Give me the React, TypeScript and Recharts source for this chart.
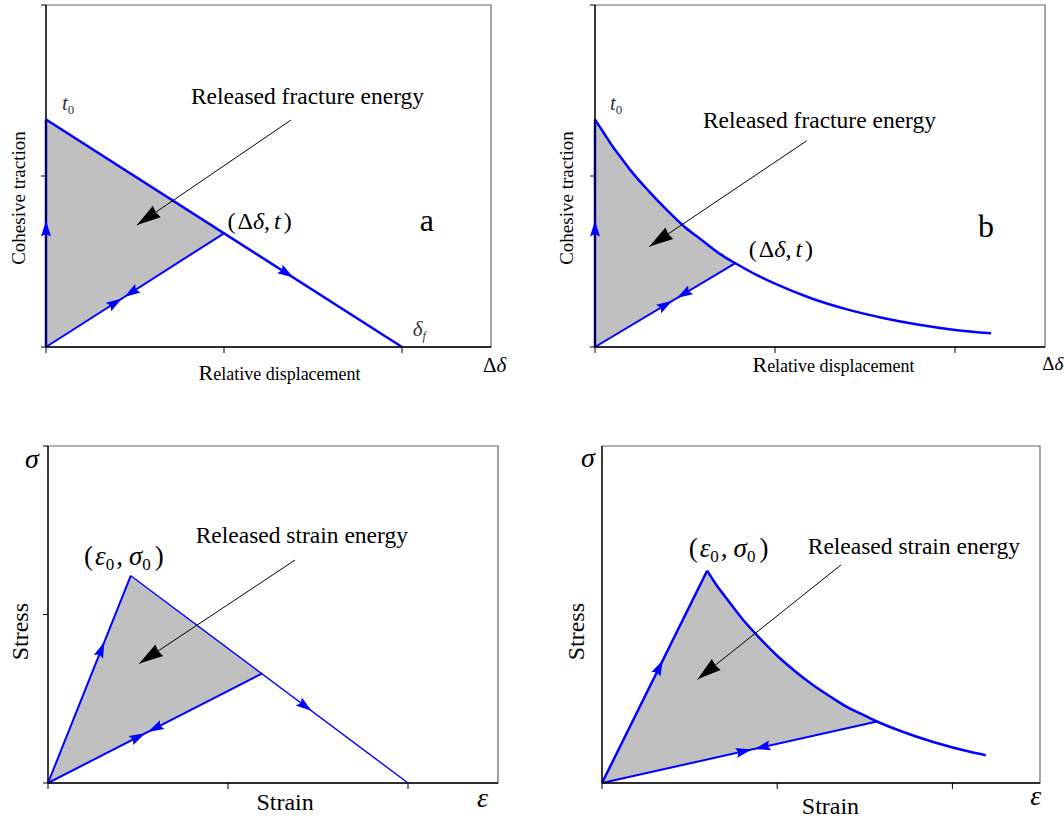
import React from 'react';
import { ComposedChart, Line, Area, Scatter, XAxis, YAxis, ReferenceArea, ReferenceDot } from 'recharts';

const BLUE = '#0000ff';
const SHADE = '#c0c0c0';
const SERIF = '"Liberation Serif", "Times New Roman", serif';

// a: bilinear cohesive law
const aLoading = [{ x: 0, y: 0 }, { x: 0, y: 1.33 }];
const aSoftening = [{ x: 0, y: 1.33 }, { x: 2, y: 0 }];
const aUnloading = [{ x: 0, y: 0 }, { x: 1, y: 0.665 }];
const aEnergy = [
  { x: 0, range: [0, 1.33] },
  { x: 1, range: [0.665, 0.665] },
];
const aArrows = [
  { x: 0, y: 0.74, dx: 0, dy: 1 },
  { x: 0.427, y: 0.284, dx: 1, dy: 0.665 },
  { x: 0.44, y: 0.293, dx: -1, dy: -0.665 },
  { x: 1.39, y: 0.406, dx: 1, dy: -0.665 },
];
const aPointer = [{ x: 1.376, y: 1.327 }, { x: 0.511, y: 0.713 }];

// b: exponential cohesive law
const bLoading = [{ x: 0, y: 0 }, { x: 0, y: 1.33 }];
const bCurve = [
  { x: 0, y: 1.33 }, { x: 0.05, y: 1.25 }, { x: 0.1, y: 1.17 }, { x: 0.15, y: 1.1 },
  { x: 0.2, y: 1.03 }, { x: 0.3, y: 0.91 }, { x: 0.4, y: 0.8 }, { x: 0.5, y: 0.7 },
  { x: 0.6, y: 0.62 }, { x: 0.7, y: 0.54 }, { x: 0.78, y: 0.49 }, { x: 0.9, y: 0.42 },
  { x: 1.0, y: 0.37 }, { x: 1.2, y: 0.285 }, { x: 1.4, y: 0.22 }, { x: 1.6, y: 0.17 },
  { x: 1.8, y: 0.13 }, { x: 2.0, y: 0.1 }, { x: 2.2, y: 0.08 },
];
const bUnloading = [{ x: 0, y: 0 }, { x: 0.78, y: 0.49 }];
const bEnergy = [
  { x: 0, range: [0, 1.33] }, { x: 0.05, range: [0.031, 1.25] }, { x: 0.1, range: [0.063, 1.17] },
  { x: 0.15, range: [0.094, 1.1] }, { x: 0.2, range: [0.126, 1.03] }, { x: 0.3, range: [0.188, 0.91] },
  { x: 0.4, range: [0.251, 0.8] }, { x: 0.5, range: [0.314, 0.7] }, { x: 0.6, range: [0.377, 0.62] },
  { x: 0.7, range: [0.44, 0.54] }, { x: 0.78, range: [0.49, 0.49] },
];
const bArrows = [
  { x: 0, y: 0.74, dx: 0, dy: 1 },
  { x: 0.43, y: 0.27, dx: 1, dy: 0.628 },
  { x: 0.455, y: 0.286, dx: -1, dy: -0.628 },
];
const bPointer = [{ x: 1.176, y: 1.206 }, { x: 0.302, y: 0.587 }];

// c: linear softening stress-strain
const cLoading = [{ x: 0, y: 0 }, { x: 0.46, y: 1.23 }];
const cSoftening = [{ x: 0.46, y: 1.23 }, { x: 2, y: 0 }];
const cUnloading = [{ x: 0, y: 0 }, { x: 1.19, y: 0.65 }];
const cEnergy = [
  { x: 0, range: [0, 0] },
  { x: 0.46, range: [0.25, 1.23] },
  { x: 1.19, range: [0.65, 0.65] },
];
const cArrows = [
  { x: 0.313, y: 0.837, dx: 0.46, dy: 1.23 },
  { x: 0.54, y: 0.295, dx: 1, dy: 0.546 },
  { x: 0.555, y: 0.303, dx: -1, dy: -0.546 },
  { x: 1.465, y: 0.427, dx: 1.54, dy: -1.23 },
];
const cPointer = [{ x: 1.372, y: 1.323 }, { x: 0.507, y: 0.709 }];

// d: exponential softening stress-strain
const dLoading = [{ x: 0, y: 0 }, { x: 0.6, y: 1.26 }];
const dCurve = [
  { x: 0.6, y: 1.26 }, { x: 0.65, y: 1.18 }, { x: 0.7, y: 1.11 }, { x: 0.8, y: 0.975 },
  { x: 0.9, y: 0.86 }, { x: 1.0, y: 0.755 }, { x: 1.1, y: 0.665 }, { x: 1.2, y: 0.585 },
  { x: 1.3, y: 0.515 }, { x: 1.4, y: 0.45 }, { x: 1.5, y: 0.4 }, { x: 1.57, y: 0.365 },
  { x: 1.7, y: 0.31 }, { x: 1.9, y: 0.24 }, { x: 2.1, y: 0.185 }, { x: 2.19, y: 0.165 },
];
const dUnloading = [{ x: 0, y: 0 }, { x: 1.57, y: 0.365 }];
const dEnergy = [
  { x: 0, range: [0, 0] }, { x: 0.6, range: [0.14, 1.26] }, { x: 0.65, range: [0.151, 1.18] },
  { x: 0.7, range: [0.163, 1.11] }, { x: 0.8, range: [0.186, 0.975] }, { x: 0.9, range: [0.209, 0.86] },
  { x: 1.0, range: [0.233, 0.755] }, { x: 1.1, range: [0.256, 0.665] }, { x: 1.2, range: [0.279, 0.585] },
  { x: 1.3, range: [0.302, 0.515] }, { x: 1.4, range: [0.326, 0.45] }, { x: 1.5, range: [0.349, 0.4] },
  { x: 1.57, range: [0.365, 0.365] },
];
const dArrows = [
  { x: 0.348, y: 0.73, dx: 0.6, dy: 1.26 },
  { x: 0.855, y: 0.199, dx: 1, dy: 0.2325 },
  { x: 0.87, y: 0.202, dx: -1, dy: -0.2325 },
];
const dPointer = [{ x: 1.364, y: 1.294 }, { x: 0.545, y: 0.615 }];

const xTicks = [0, 1, 2];

type CurveKind = 'linear' | 'monotone';

// arrow head drawn at a scatter point, turned along (dx, dy) in pixel space
const headShape = (kx: number, ky: number, len: number, wid: number, fill: string, notch: number) => (p: any) => {
  const { cx, cy, payload } = p;
  const deg = (Math.atan2(-payload.dy * ky, payload.dx * kx) * 180) / Math.PI;
  return (
    <polygon
      points={`0,0 ${-len},${-wid / 2} ${-len * notch},0 ${-len},${wid / 2}`}
      transform={`translate(${cx},${cy}) rotate(${deg})`}
      fill={fill}
    />
  );
};

// text pinned to a data position
const note = (key: string, x: number, y: number, render: (cx: number, cy: number) => React.ReactElement) => (
  <ReferenceDot key={key} x={x} y={y} r={1} ifOverflow="visible" shape={(p: any) => render(p.cx, p.cy)} />
);

const txt = (cx: number, cy: number, size: number, anchor: string, body: React.ReactNode, rot = false) => (
  <text
    x={cx}
    y={cy}
    fontFamily={SERIF}
    fontSize={size}
    fill="#000"
    textAnchor={anchor as any}
    transform={rot ? `rotate(-90 ${cx} ${cy})` : undefined}
  >
    {body}
  </text>
);

const pairLabel = (cx: number, cy: number) =>
  txt(cx, cy, 27, 'middle', [
    <tspan key="a">(</tspan>,
    <tspan key="b" dx={2} fontStyle="italic">ε</tspan>,
    <tspan key="c" fontSize={17} dy={5}>0</tspan>,
    <tspan key="d" dy={-5} dx={2}>,</tspan>,
    <tspan key="e" dx={6} fontStyle="italic">σ</tspan>,
    <tspan key="f" fontSize={17} dy={5}>0</tspan>,
    <tspan key="g" dy={-5} dx={4}>)</tspan>,
  ]);

const jumpLabel = (cx: number, cy: number) =>
  txt(cx, cy, 24, 'middle', [
    <tspan key="a">(</tspan>,
    <tspan key="b" dx={2}>Δ</tspan>,
    <tspan key="c" fontStyle="italic">δ</tspan>,
    <tspan key="d">,</tspan>,
    <tspan key="e" dx={4} fontStyle="italic">t</tspan>,
    <tspan key="f" dx={3}>)</tspan>,
  ]);

const t0Label = (cx: number, cy: number) =>
  txt(cx, cy, 21, 'start', [
    <tspan key="t" fontStyle="italic" fill="#333">t</tspan>,
    <tspan key="s" fontSize={13} dy={4} fill="#333">0</tspan>,
  ]);

const dispLabel = (cx: number, cy: number) =>
  txt(cx, cy, 18, 'middle', [
    <tspan key="R" fontSize={22}>R</tspan>,
    <tspan key="r">elative displacement</tspan>,
  ]);

interface PanelProps {
  left: number;
  top: number;
  width: number;
  height: number;
  margin: { top: number; right: number; bottom: number; left: number };
  yTicks: number[];
  lines: { data: { x: number; y: number }[]; width: number; kind?: CurveKind }[];
  energy: { x: number; range: number[] }[];
  energyKind: CurveKind;
  arrows: { x: number; y: number; dx: number; dy: number }[];
  pointer: { x: number; y: number }[];
  children?: React.ReactNode;
}

const Panel = (props: PanelProps) => {
  const { left, top, width, height, margin, yTicks, lines, energy, energyKind, arrows, pointer, children } = props;
  // axes take 1px each, the plot box is what is left inside the margins
  const m = { top: margin.top, right: margin.right, bottom: margin.bottom - 1, left: margin.left - 1 };
  const kx = (width - margin.left - margin.right) / 2.5;
  const ky = (height - margin.top - margin.bottom) / 2;
  const from = pointer[0];
  const tip = pointer[pointer.length - 1];
  const pointerHead = [{ x: tip.x, y: tip.y, dx: tip.x - from.x, dy: tip.y - from.y }];

  return (
    <div style={{ position: 'absolute', left, top }}>
      <ComposedChart width={width} height={height} margin={m}>
        <ReferenceArea x1={0} x2={2.5} y1={0} y2={2} fill="none" stroke="#666" strokeWidth={1.2} ifOverflow="visible" />
        <XAxis
          type="number"
          dataKey="x"
          domain={[0, 2.5]}
          ticks={xTicks}
          interval={0}
          height={1}
          tickSize={6}
          tickFormatter={() => ''}
          axisLine={{ stroke: '#000', strokeWidth: 1.3 }}
          tickLine={{ stroke: '#000', strokeWidth: 1 }}
        />
        <YAxis
          type="number"
          dataKey="y"
          domain={[0, 2]}
          ticks={yTicks.length ? yTicks : [0]}
          interval={0}
          width={1}
          tickSize={5}
          tickFormatter={() => ''}
          axisLine={{ stroke: '#000', strokeWidth: 1.3 }}
          tickLine={yTicks.length ? { stroke: '#000', strokeWidth: 1 } : false}
        />
        <Area
          data={energy}
          dataKey="range"
          type={energyKind}
          fill={SHADE}
          fillOpacity={1}
          stroke="none"
          isAnimationActive={false}
        />
        {lines.map((l, i) => (
          <Line
            key={i}
            data={l.data}
            dataKey="y"
            type={l.kind ?? 'linear'}
            stroke={BLUE}
            strokeWidth={l.width}
            dot={false}
            activeDot={false}
            isAnimationActive={false}
          />
        ))}
        <Line data={pointer} dataKey="y" type="linear" stroke="#000" strokeWidth={1} dot={false} activeDot={false} isAnimationActive={false} />
        <Scatter data={arrows} shape={headShape(kx, ky, 16, 10, BLUE, 0.85)} isAnimationActive={false} />
        <Scatter data={pointerHead} shape={headShape(kx, ky, 24, 14, '#000', 0.95)} isAnimationActive={false} />
        {children}
      </ComposedChart>
    </div>
  );
};

const App = () => (
  <div style={{ position: 'absolute', left: 0, top: 0, width: 1064, height: 823, background: '#fff' }}>
    <Panel
      left={0}
      top={0}
      width={520}
      height={390}
      margin={{ top: 5, right: 29, bottom: 43, left: 46 }}
      yTicks={[0, 1, 2]}
      lines={[
        { data: aLoading, width: 2.5 },
        { data: aSoftening, width: 2.5 },
        { data: aUnloading, width: 2 },
      ]}
      energy={aEnergy}
      energyKind="linear"
      arrows={aArrows}
      pointer={aPointer}
    >
      {[
        note('t0', 0.09, 1.386, t0Label),
        note('rel', 1.469, 1.421, (x, y) => txt(x, y, 23.5, 'middle', 'Released fracture energy')),
        note('pt', 1.2, 0.69, jumpLabel),
        note('a', 2.14, 0.678, (x, y) => txt(x, y, 32, 'middle', 'a')),
        note('df', 2.06, 0.064, (x, y) => txt(x, y, 21, 'start', [
          <tspan key="d" fontStyle="italic" fill="#333">δ</tspan>,
          <tspan key="f" fontStyle="italic" fontSize={12} dy={4} fill="#333">f</tspan>,
        ])),
        note('dd', 2.455, -0.146, (x, y) => txt(x, y, 21, 'start', [
          <tspan key="D">Δ</tspan>,
          <tspan key="d" fontStyle="italic">δ</tspan>,
        ])),
        note('xl', 1.312, -0.193, dispLabel),
        note('yl', -0.118, 0.871, (x, y) => txt(x, y, 19, 'middle', 'Cohesive traction', true)),
      ]}
    </Panel>

    <Panel
      left={540}
      top={0}
      width={524}
      height={390}
      margin={{ top: 5, right: 19, bottom: 43, left: 55 }}
      yTicks={[0, 1, 2]}
      lines={[
        { data: bLoading, width: 2.5 },
        { data: bCurve, width: 2.5, kind: 'monotone' },
        { data: bUnloading, width: 2 },
      ]}
      energy={bEnergy}
      energyKind="monotone"
      arrows={bArrows}
      pointer={bPointer}
    >
      {[
        note('t0', 0.083, 1.386, t0Label),
        note('rel', 1.247, 1.28, (x, y) => txt(x, y, 23.5, 'middle', 'Released fracture energy')),
        note('pt', 1.033, 0.526, jumpLabel),
        note('b', 2.172, 0.643, (x, y) => txt(x, y, 32, 'middle', 'b')),
        note('dd', 2.485, -0.135, (x, y) => txt(x, y, 19, 'start', [
          <tspan key="D">Δ</tspan>,
          <tspan key="d" fontStyle="italic">δ</tspan>,
        ])),
        note('xl', 1.325, -0.146, dispLabel),
        note('yl', -0.122, 0.871, (x, y) => txt(x, y, 19, 'middle', 'Cohesive traction', true)),
      ]}
    </Panel>

    <Panel
      left={0}
      top={430}
      width={520}
      height={393}
      margin={{ top: 16, right: 22, bottom: 40, left: 48 }}
      yTicks={[0, 1, 2]}
      lines={[
        { data: cLoading, width: 2 },
        { data: cSoftening, width: 1.4 },
        { data: cUnloading, width: 2 },
      ]}
      energy={cEnergy}
      energyKind="linear"
      arrows={cArrows}
      pointer={cPointer}
    >
      {[
        note('s', -0.128, 1.87, (x, y) => txt(x, y, 28, 'start', <tspan fontStyle="italic">σ</tspan>)),
        note('pk', 0.422, 1.294, pairLabel),
        note('rel', 1.41, 1.424, (x, y) => txt(x, y, 23.5, 'middle', 'Released strain energy')),
        note('yl', -0.111, 0.898, (x, y) => txt(x, y, 24, 'middle', 'Stress', true)),
        note('xl', 1.317, -0.16, (x, y) => txt(x, y, 24, 'middle', 'Strain')),
        note('e', 2.383, -0.142, (x, y) => txt(x, y, 28, 'start', <tspan fontStyle="italic">ε</tspan>)),
      ]}
    </Panel>

    <Panel
      left={540}
      top={430}
      width={524}
      height={393}
      margin={{ top: 16, right: 24, bottom: 40, left: 62 }}
      yTicks={[]}
      lines={[
        { data: dLoading, width: 2.5 },
        { data: dCurve, width: 2.5, kind: 'monotone' },
        { data: dUnloading, width: 2 },
      ]}
      energy={dEnergy}
      energyKind="linear"
      arrows={dArrows}
      pointer={dPointer}
    >
      {[
        note('s', -0.12, 1.875, (x, y) => txt(x, y, 28, 'start', <tspan fontStyle="italic">σ</tspan>)),
        note('pk', 0.7225, 1.341, pairLabel),
        note('rel', 1.78, 1.359, (x, y) => txt(x, y, 23.5, 'middle', 'Released strain energy')),
        note('yl', -0.105, 0.898, (x, y) => txt(x, y, 24, 'middle', 'Stress', true)),
        note('xl', 1.304, -0.184, (x, y) => txt(x, y, 24, 'middle', 'Strain')),
        note('e', 2.444, -0.13, (x, y) => txt(x, y, 28, 'start', <tspan fontStyle="italic">ε</tspan>)),
      ]}
    </Panel>
  </div>
);

export default App;
